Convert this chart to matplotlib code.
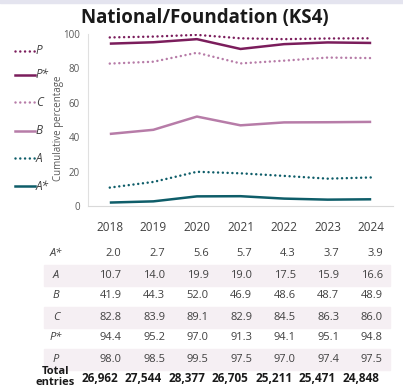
import matplotlib
matplotlib.use("Agg")
import matplotlib.pyplot as plt
import matplotlib.transforms as mtransforms
from matplotlib.patches import Rectangle
from matplotlib.lines import Line2D

plt.rcParams['font.family'] = ['Open Sans', 'DejaVu Sans']

years = ["2018", "2019", "2020", "2021", "2022", "2023", "2024"]
a_star = [2.0, 2.7, 5.6, 5.7, 4.3, 3.7, 3.9]
a_grade = [10.7, 14.0, 19.9, 19.0, 17.5, 15.9, 16.6]
b_grade = [41.9, 44.3, 52.0, 46.9, 48.6, 48.7, 48.9]
c_grade = [82.8, 83.9, 89.1, 82.9, 84.5, 86.3, 86.0]
p_star = [94.4, 95.2, 97.0, 91.3, 94.1, 95.1, 94.8]
p_grade = [98.0, 98.5, 99.5, 97.5, 97.0, 97.4, 97.5]
total_entries = ["26,962", "27,544", "28,377", "26,705", "25,211", "25,471", "24,848"]

DARK = "#7b1d5c"
LIGHT = "#b77ca8"
TEAL = "#0e5d69"
TXT = "#404040"

W, H = 403, 390
fig = plt.figure(figsize=(W / 100, H / 100), dpi=100)

def fx(px):
    return px / W

def fy(py):
    return 1 - py / H

# light border stripe at the top
fig.patches.append(Rectangle((0, fy(3)), 1, 3 / H, transform=fig.transFigure,
                             color="#e4e4ef", zorder=0))

fig.text(fx(205), fy(18), "National/Foundation (KS4)", ha="center", va="center",
         fontsize=13.5, fontweight="bold", color="#1a1a1a")

ax = fig.add_axes([fx(88), fy(206), fx(393) - fx(88), fy(34) - fy(206)])
x = list(range(len(years)))

dot = (0, (0.01, 1.9))
series = [
    ("P", p_grade, DARK, dot),
    ("P*", p_star, DARK, "-"),
    ("C", c_grade, LIGHT, dot),
    ("B", b_grade, LIGHT, "-"),
    ("A", a_grade, TEAL, dot),
    ("A*", a_star, TEAL, "-"),
]
for name, vals, col, ls in series:
    ax.plot(x, vals, color=col, linestyle=ls, linewidth=1.8,
            dash_capstyle="round", solid_capstyle="butt")

ax.set_xlim(-0.5, 6.5)
ax.set_ylim(0, 100)
ax.set_yticks([0, 20, 40, 60, 80, 100])
ax.set_xticks(x)
ax.set_xticklabels(years)
ax.tick_params(axis="y", length=0, labelsize=7, labelcolor="#595959", pad=6)
ax.tick_params(axis="x", length=0, labelsize=8.5, labelcolor=TXT, pad=11)
for s in ["top", "right"]:
    ax.spines[s].set_visible(False)
ax.spines["left"].set_color("#e0e0e0")
ax.spines["bottom"].set_color("#d9d9d9")
ax.set_ylabel("Cumulative percentage", fontsize=7, color="#595959")
ax.yaxis.set_label_coords((64 - 88) / 305, (206 - 128) / 172)

# legend on the left
leg_y = [51, 75, 102, 131, 158, 186]
for (name, vals, col, ls), py in zip(series, leg_y):
    fig.lines.append(Line2D([fx(15), fx(35)], [fy(py), fy(py)], transform=fig.transFigure,
                            color=col, linestyle=ls, linewidth=1.8, dash_capstyle="round"))
    fig.text(fx(36), fy(py), name, ha="left", va="center", fontsize=8.5,
             style="italic", color=TXT)

# data table below
trans = mtransforms.blended_transform_factory(ax.transData, fig.transFigure)
rows = [("A*", a_star), ("A", a_grade), ("B", b_grade), ("C", c_grade),
        ("P*", p_star), ("P", p_grade)]
row_y = [253, 275, 296, 317, 338, 359]
for i, ((name, vals), py) in enumerate(zip(rows, row_y)):
    if i % 2 == 1:
        fig.patches.append(Rectangle((fx(44), fy(py + 10.5)), fx(390) - fx(44), 21 / H,
                                     transform=fig.transFigure, color="#f5eff3", zorder=0))
    fig.text(fx(56), fy(py), name, ha="center", va="center", fontsize=8,
             style="italic", color=TXT)
    for xi, v in zip(x, vals):
        fig.text(xi + 0.27, fy(py), f"{v:.1f}", transform=trans, ha="right",
                 va="center", fontsize=8, color=TXT)

fig.text(fx(55), fy(377), "Total\nentries", ha="center", va="center", fontsize=8,
         fontweight="bold", color="#1a1a1a", linespacing=1.0)
for xi, t in zip(x, total_entries):
    fig.text(xi + 0.19, fy(378), t, transform=trans, ha="right", va="center",
             fontsize=8.5, fontweight="bold", color="#1a1a1a")

fig.savefig("out.png", dpi=100)
